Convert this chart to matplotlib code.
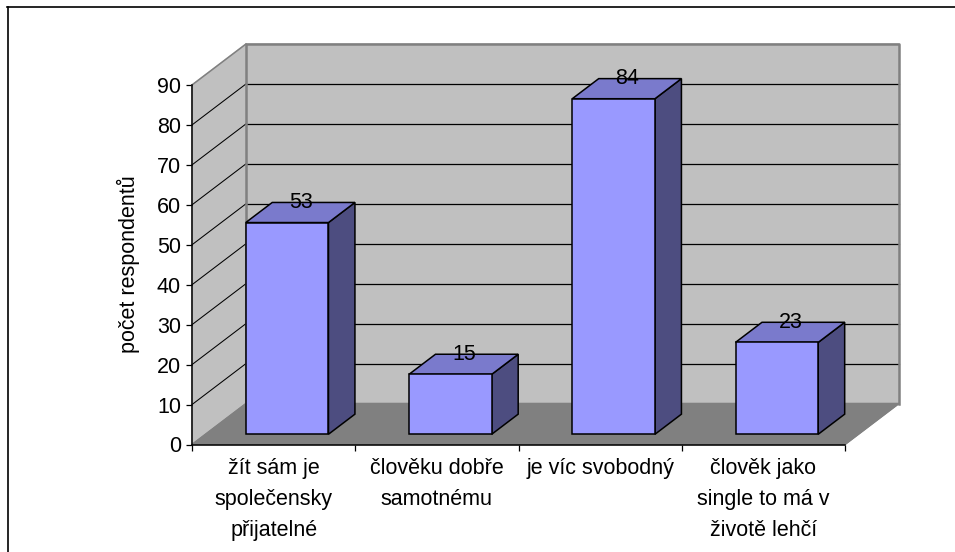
import matplotlib
matplotlib.use("Agg")
import matplotlib.pyplot as plt
from matplotlib.lines import Line2D
from matplotlib.patches import Polygon

plt.rcParams['font.family'] = ['Liberation Sans', 'DejaVu Sans']

categories = ["žít sám je\nspolečensky\npřijatelné", "člověku dobře\nsamotnému",
              "je víc svobodný", "člověk jako\nsingle to má v\nživotě lehčí"]
values = [53, 15, 84, 23]
y_ticks = list(range(0, 100, 10))

W, H = 955, 552
FS = 15.5
fig = plt.figure(figsize=(W / 100, H / 100), dpi=100, facecolor='white')

# axes sits on the front plane of the fake 3d box
left, right, bottom, top = 192, 845, 444.5, 85
ax = fig.add_axes([left / W, 1 - bottom / H, (right - left) / W, (bottom - top) / H])
ax.set_xlim(0, len(values))
ax.set_ylim(0, 90)
ax.patch.set_visible(False)

px_x = len(values) / (right - left)
px_y = 90 / (bottom - top)
depth_x = 54 * px_x
depth_y = 41 * px_y


def shift(x, y, frac):
    return (x + depth_x * frac, y + depth_y * frac)


def face(points, color, edge=None, lw=1.1, z=1):
    ax.add_patch(Polygon(points, closed=True, facecolor=color, edgecolor=edge or color,
                         linewidth=lw, clip_on=False, zorder=z, joinstyle='miter'))


n = len(values)
# walls and floor
face([(0, 0), (0, 90), shift(0, 90, 1), shift(0, 0, 1)], '#C0C0C0', z=1)
face([shift(0, 0, 1), shift(0, 90, 1), shift(n, 90, 1), shift(n, 0, 1)], '#C0C0C0', z=1)
face([(0, 0), (n, 0), shift(n, 0, 1), shift(0, 0, 1)], '#808080', z=2)

# gridlines
for t in y_ticks[1:-1]:
    x0, y0 = shift(0, t, 1)
    x1, y1 = shift(n, t, 1)
    ax.plot([0, x0], [t, y0], color='black', lw=0.75, clip_on=False, zorder=1.5)
    ax.plot([x0, x1], [y0, y1], color='black', lw=0.9, clip_on=False, zorder=1.5)

# wall outline
wall = [shift(0, 0, 1), shift(0, 90, 1), shift(n, 90, 1), shift(n, 0, 1)]
ax.plot([p[0] for p in wall], [p[1] for p in wall], color='#808080', lw=1.8, clip_on=False, zorder=1.8)
ax.plot([0, wall[1][0]], [90, wall[1][1]], color='#808080', lw=1.1, clip_on=False, zorder=1.8)
ax.plot([0, wall[0][0]], [0, wall[0][1]], color='#808080', lw=0.8, clip_on=False, zorder=2.5)
ax.plot([n, wall[3][0]], [0, wall[3][1]], color='#808080', lw=0.8, clip_on=False, zorder=2.5)

# bars
bar_w = 82.7 * px_x
f0, f1 = 0.25, 0.74
for i, v in enumerate(values):
    xa = i + 0.5 - bar_w / 2
    xb = i + 0.5 + bar_w / 2
    z = 3 + i
    face([shift(xb, 0, f0), shift(xb, 0, f1), shift(xb, v, f1), shift(xb, v, f0)], '#4D4D80', 'black', z=z)
    face([shift(xa, v, f0), shift(xb, v, f0), shift(xb, v, f1), shift(xa, v, f1)], '#7A7ACC', 'black', z=z)
    face([shift(xa, 0, f0), shift(xb, 0, f0), shift(xb, v, f0), shift(xa, v, f0)], '#9999FF', 'black', z=z)
    lx, ly = shift(i + 0.5, v, f1)
    ax.text(lx - 13 * px_x, ly, str(v), ha='center', va='center', fontsize=FS, color='black', zorder=20)

# axes
for s in ('top', 'right'):
    ax.spines[s].set_visible(False)
for s in ('left', 'bottom'):
    ax.spines[s].set_linewidth(1.1)
    ax.spines[s].set_zorder(15)
ax.set_yticks(y_ticks)
ax.set_xticks(range(n + 1))
ax.set_xticklabels([])
ax.set_xticks([i + 0.5 for i in range(n)], minor=True)
ax.set_xticklabels(categories, minor=True, linespacing=1.6)
ax.tick_params(axis='x', which='major', length=4.5, width=0.9)
ax.tick_params(axis='x', which='minor', length=0, pad=10, labelsize=FS)
ax.tick_params(axis='y', length=4.5, width=0.9, labelsize=FS, pad=3.5)
ax.set_ylabel("počet respondentů", fontsize=FS, va='center')
ax.yaxis.set_label_coords((128.5 - left) / (right - left), (bottom - 264) / (bottom - top))

# outer frame of the page: only top and left show
fig.add_artist(Line2D([7.5 / W, 7.5 / W], [0, 1 - 6.5 / H], color='black', lw=1.2))
fig.add_artist(Line2D([7 / W, 1], [1 - 6.5 / H, 1 - 6.5 / H], color='black', lw=1.2))

fig.savefig("out.png", dpi=100)
